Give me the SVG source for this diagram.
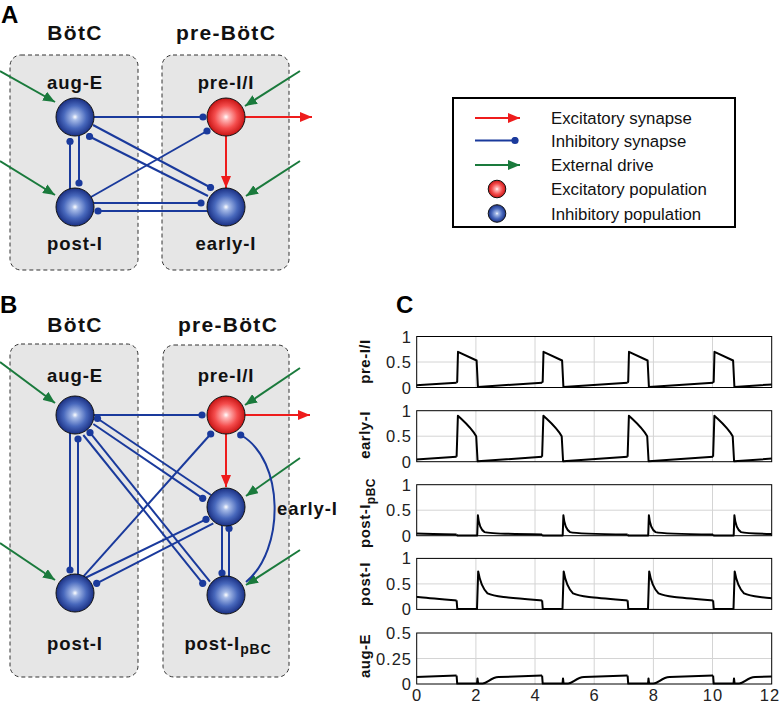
<svg xmlns="http://www.w3.org/2000/svg" xmlns:xlink="http://www.w3.org/1999/xlink" width="780" height="705" viewBox="0 0 780 705">
<style>
.box{fill:#e6e6e6;stroke:#333;stroke-width:1;stroke-dasharray:4 3}
.inh{stroke:#1a3a9c;stroke-width:2;fill:none;marker-end:url(#dt)}
.exc{stroke:#ee1c1c;stroke-width:2;fill:none;marker-end:url(#ar)}
.ext{stroke:#1a7a3c;stroke-width:2;fill:none;marker-end:url(#ag)}
.nb{fill:url(#gb);stroke:#111;stroke-width:1}
.nr{fill:url(#gr);stroke:#111;stroke-width:1}
.lbl{font-family:"Liberation Sans",Arial,sans-serif;font-weight:bold;font-size:18.5px;letter-spacing:0.9px;text-anchor:middle;fill:#111}
.reg{font-family:"Liberation Sans",Arial,sans-serif;font-weight:bold;font-size:21px;letter-spacing:1.3px;text-anchor:middle;fill:#111}
.pan{font-family:"Liberation Sans",Arial,sans-serif;font-weight:bold;font-size:24px;fill:#000}
.leg{font-family:"Liberation Sans",Arial,sans-serif;font-size:16.8px;fill:#111}
.tk{font-family:"Liberation Sans",Arial,sans-serif;font-size:16.5px;letter-spacing:1px;fill:#222}
.yl{font-family:"Liberation Sans",Arial,sans-serif;font-weight:bold;font-size:15px;letter-spacing:0.5px;text-anchor:middle;fill:#111}
.grid{stroke:#d4d4d4;stroke-width:1}
.ax{fill:none;stroke:#000;stroke-width:1}
.tr{fill:none;stroke:#000;stroke-width:2;stroke-linejoin:round}
</style>
<defs>
<radialGradient id="gb" cx="50%" cy="50%" r="50%">
<stop offset="0" stop-color="#ffffff"/>
<stop offset="0.16" stop-color="#a8bce8"/>
<stop offset="0.6" stop-color="#4868bc"/>
<stop offset="1" stop-color="#1a3084"/>
</radialGradient>
<radialGradient id="gr" cx="50%" cy="50%" r="50%">
<stop offset="0" stop-color="#ffffff"/>
<stop offset="0.16" stop-color="#ffb8b8"/>
<stop offset="0.6" stop-color="#f44c4c"/>
<stop offset="1" stop-color="#c81414"/>
</radialGradient>
<marker id="ar" markerUnits="userSpaceOnUse" markerWidth="12" markerHeight="10" viewBox="0 0 12 10" refX="12" refY="5" orient="auto"><path d="M0,0 L12,5 L0,10 z" fill="#ee1c1c"/></marker>
<marker id="ag" markerUnits="userSpaceOnUse" markerWidth="12" markerHeight="10" viewBox="0 0 12 10" refX="12" refY="5" orient="auto"><path d="M0,0 L12,5 L0,10 z" fill="#1a7a3c"/></marker>
<marker id="dt" markerUnits="userSpaceOnUse" markerWidth="8" markerHeight="8" viewBox="0 0 8 8" refX="4" refY="4"><circle cx="4" cy="4" r="3.6" fill="#1a3a9c"/></marker>
<clipPath id="cp"><rect x="416.7" y="300" width="355" height="400"/></clipPath>
<path id="p1" d="M0,-4.8 L0.6,-6 L1.4,-35.7 L20,-27 L21.3,-0.6 L85.5,-4.8"/>
<path id="p2" d="M0,-5 L1.3,-46 C7,-40.5 14,-35 19.6,-25.5 L21,-0.4 L85.5,-5"/>
<path id="p3" d="M0,-1.3 L0.6,-0.3 L20.6,-0.3 L21.3,-20.4 C22.2,-11 24,-6 28,-3.6 C34,-2 50,-1.6 85.5,-1.3"/>
<path id="p4" d="M0,-9 L0.7,-0.3 L20.4,-0.6 L21.6,-38 C23,-30 26,-20.5 31,-16 C38,-12.5 52,-11.6 85.5,-9"/>
<path id="p5" d="M0,-8.4 L0.6,-0.4 L20.4,-0.4 L20.9,-5.6 L21.5,-0.4 L26,-0.4 C31,-0.4 34,-6.6 42,-6.9 L85.5,-8.4"/>
</defs>
<rect width="780" height="705" fill="#fff"/>

<!-- Panel A -->
<text class="pan" x="1" y="22.5">A</text>
<g id="A-botc"><rect class="box" x="10" y="55" width="128" height="215" rx="11"/><text class="reg" x="75" y="39.5">BötC</text></g>
<g id="A-prebotc"><rect class="box" x="162" y="55" width="127" height="215" rx="11"/><text class="reg" x="226" y="39.5">pre-BötC</text></g>
<g id="A-connectors">
<line class="ext" x1="0" y1="71" x2="55" y2="102"/>
<line class="ext" x1="0" y1="161" x2="55" y2="195"/>
<line class="ext" x1="300" y1="71" x2="245" y2="106"/>
<line class="ext" x1="300" y1="161" x2="246" y2="196"/>
<line class="exc" x1="245" y1="117" x2="312" y2="117"/>
<line class="exc" x1="226" y1="136" x2="226" y2="188"/>
<line class="inh" x1="94" y1="117" x2="203" y2="117"/>
<line class="inh" x1="91" y1="197" x2="207" y2="131"/>
<line class="inh" x1="93" y1="125" x2="210.5" y2="187.5"/>
<line class="inh" x1="208" y1="196" x2="89.5" y2="136.5"/>
<line class="inh" x1="70" y1="189" x2="70" y2="141.5"/>
<line class="inh" x1="79" y1="135.5" x2="79" y2="183"/>
<line class="inh" x1="94" y1="203" x2="201" y2="203"/>
<line class="inh" x1="207" y1="211" x2="98" y2="211"/>
</g>
<g id="A-augE"><circle class="nb" cx="75" cy="117" r="19"/><text class="lbl" x="75" y="89">aug-E</text></g>
<g id="A-preI"><circle class="nr" cx="226" cy="117" r="19"/><text class="lbl" x="226" y="89">pre-I/I</text></g>
<g id="A-postI"><circle class="nb" cx="75" cy="207" r="19"/><text class="lbl" x="75" y="250">post-I</text></g>
<g id="A-earlyI"><circle class="nb" cx="226" cy="207" r="19"/><text class="lbl" x="226" y="250">early-I</text></g>

<!-- Legend -->
<g id="legend">
<rect x="453" y="98" width="282" height="129" fill="#fff" stroke="#000" stroke-width="2"/>
<line class="exc" x1="475" y1="118" x2="520" y2="118"/>
<text class="leg" x="551" y="124">Excitatory synapse</text>
<line class="inh" x1="475" y1="140.5" x2="515" y2="140.5"/>
<text class="leg" x="551" y="146.5">Inhibitory synapse</text>
<line class="ext" x1="475" y1="165" x2="520" y2="165"/>
<text class="leg" x="551" y="171">External drive</text>
<circle class="nr" cx="497" cy="189" r="8.8"/>
<text class="leg" x="551" y="195">Excitatory population</text>
<circle class="nb" cx="497" cy="213.5" r="8.8"/>
<text class="leg" x="551" y="219.5">Inhibitory population</text>
</g>

<!-- Panel B -->
<text class="pan" x="0" y="313">B</text>
<g id="B-botc"><rect class="box" x="10" y="344" width="128" height="333" rx="11"/><text class="reg" x="75" y="332">BötC</text></g>
<g id="B-prebotc"><rect class="box" x="163" y="345" width="126" height="332" rx="11"/><text class="reg" x="228" y="332">pre-BötC</text></g>
<g id="B-connectors">
<line class="ext" x1="0" y1="362" x2="55" y2="403"/>
<line class="ext" x1="0" y1="543" x2="55" y2="580"/>
<line class="ext" x1="300" y1="368" x2="245" y2="405"/>
<line class="ext" x1="300" y1="458" x2="246" y2="496"/>
<line class="ext" x1="300" y1="550" x2="246" y2="585"/>
<line class="exc" x1="245" y1="415" x2="310" y2="415"/>
<line class="exc" x1="226" y1="434" x2="226" y2="487"/>
<line class="inh" x1="94" y1="415" x2="202" y2="415"/>
<line class="inh" x1="211" y1="495" x2="97.5" y2="418.5"/>
<line class="inh" x1="93.3" y1="424" x2="202.7" y2="498.3"/>
<line class="inh" x1="210" y1="581.7" x2="90" y2="432.7"/>
<line class="inh" x1="83.3" y1="435" x2="202.7" y2="583.3"/>
<line class="inh" x1="70" y1="433" x2="70" y2="570"/>
<line class="inh" x1="78" y1="575" x2="78" y2="439"/>
<line class="inh" x1="83.3" y1="576.7" x2="210.7" y2="434"/>
<line class="inh" x1="85" y1="578" x2="206" y2="519.3"/>
<line class="inh" x1="213.3" y1="523.3" x2="96.7" y2="583.3"/>
<line class="inh" x1="222" y1="525.5" x2="222" y2="573"/>
<line class="inh" x1="229" y1="577" x2="229" y2="528.5"/>
<path class="inh" d="M246,582 C285,550 285,460 240.7,435"/>
</g>
<g id="B-augE"><circle class="nb" cx="75" cy="415" r="19"/><text class="lbl" x="75" y="381.5">aug-E</text></g>
<g id="B-preI"><circle class="nr" cx="226" cy="415" r="19"/><text class="lbl" x="226" y="381.5">pre-I/I</text></g>
<g id="B-earlyI"><circle class="nb" cx="226" cy="507" r="19"/><text class="lbl" x="277" y="515" style="text-anchor:start">early-I</text></g>
<g id="B-postI"><circle class="nb" cx="75" cy="593" r="19"/><text class="lbl" x="75" y="650">post-I</text></g>
<g id="B-postIpBC"><circle class="nb" cx="226" cy="595" r="19"/><text class="lbl" x="228" y="650">post-I<tspan font-size="14" dy="4">pBC</tspan></text></g>

<!-- Panel C -->
<text class="pan" x="396" y="313" font-size="22">C</text>
<g id="C-grid">
<rect x="416.7" y="336.5" width="355" height="51" fill="#fff"/>
<rect x="416.7" y="410.7" width="355" height="51" fill="#fff"/>
<rect x="416.7" y="484.7" width="355" height="51" fill="#fff"/>
<rect x="416.7" y="558.4" width="355" height="51" fill="#fff"/>
<rect x="416.7" y="633" width="355" height="51" fill="#fff"/>
<path class="grid" d="M475.9,336.5V387.5M535,336.5V387.5M594.2,336.5V387.5M653.4,336.5V387.5M712.5,336.5V387.5M416.7,362H771.7
M475.9,410.7V461.7M535,410.7V461.7M594.2,410.7V461.7M653.4,410.7V461.7M712.5,410.7V461.7M416.7,436.2H771.7
M475.9,484.7V535.7M535,484.7V535.7M594.2,484.7V535.7M653.4,484.7V535.7M712.5,484.7V535.7M416.7,510.2H771.7
M475.9,558.4V609.4M535,558.4V609.4M594.2,558.4V609.4M653.4,558.4V609.4M712.5,558.4V609.4M416.7,583.9H771.7
M475.9,633V684M535,633V684M594.2,633V684M653.4,633V684M712.5,633V684M416.7,658.5H771.7"/>
</g>
<g id="C-traces" class="tr" clip-path="url(#cp)">
<use xlink:href="#p1" x="371.1" y="387.5"/><use xlink:href="#p1" x="456.6" y="387.5"/><use xlink:href="#p1" x="542.1" y="387.5"/><use xlink:href="#p1" x="627.6" y="387.5"/><use xlink:href="#p1" x="713.1" y="387.5"/>
<use xlink:href="#p2" x="371.1" y="461.7"/><use xlink:href="#p2" x="456.6" y="461.7"/><use xlink:href="#p2" x="542.1" y="461.7"/><use xlink:href="#p2" x="627.6" y="461.7"/><use xlink:href="#p2" x="713.1" y="461.7"/>
<use xlink:href="#p3" x="371.1" y="535.7"/><use xlink:href="#p3" x="456.6" y="535.7"/><use xlink:href="#p3" x="542.1" y="535.7"/><use xlink:href="#p3" x="627.6" y="535.7"/><use xlink:href="#p3" x="713.1" y="535.7"/>
<use xlink:href="#p4" x="371.1" y="609.4"/><use xlink:href="#p4" x="456.6" y="609.4"/><use xlink:href="#p4" x="542.1" y="609.4"/><use xlink:href="#p4" x="627.6" y="609.4"/><use xlink:href="#p4" x="713.1" y="609.4"/>
<use xlink:href="#p5" x="371.1" y="684"/><use xlink:href="#p5" x="456.6" y="684"/><use xlink:href="#p5" x="542.1" y="684"/><use xlink:href="#p5" x="627.6" y="684"/><use xlink:href="#p5" x="713.1" y="684"/>
</g>
<g id="C-axes">
<rect class="ax" x="416.7" y="336.5" width="355" height="51"/>
<rect class="ax" x="416.7" y="410.7" width="355" height="51"/>
<rect class="ax" x="416.7" y="484.7" width="355" height="51"/>
<rect class="ax" x="416.7" y="558.4" width="355" height="51"/>
<rect class="ax" x="416.7" y="633" width="355" height="51"/>
</g>
<g id="C-yticks" class="tk" text-anchor="end">
<text x="412" y="342.5">1</text><text x="412" y="368">0.5</text><text x="412" y="393.5">0</text>
<text x="412" y="416.7">1</text><text x="412" y="442.2">0.5</text><text x="412" y="467.7">0</text>
<text x="412" y="490.7">1</text><text x="412" y="516.2">0.5</text><text x="412" y="541.7">0</text>
<text x="412" y="564.4">1</text><text x="412" y="589.9">0.5</text><text x="412" y="615.4">0</text>
<text x="412" y="639">0.5</text><text x="412" y="664.5">0.25</text><text x="412" y="690">0</text>
</g>
<g id="C-xticks" class="tk" text-anchor="middle">
<text x="417.2" y="700.5">0</text><text x="476.4" y="700.5">2</text><text x="535.5" y="700.5">4</text><text x="594.7" y="700.5">6</text><text x="653.9" y="700.5">8</text><text x="713" y="700.5">10</text><text x="770" y="700.5">12</text>
</g>
<g id="C-ylabels" class="yl">
<text transform="translate(370,361.5) rotate(-90)">pre-I/I</text>
<text transform="translate(370,435) rotate(-90)">early-I</text>
<text transform="translate(370,513) rotate(-90)">post-I<tspan font-size="12" dy="4.5">pBC</tspan></text>
<text transform="translate(370,584) rotate(-90)">post-I</text>
<text transform="translate(370,656) rotate(-90)">aug-E</text>
</g>
</svg>
